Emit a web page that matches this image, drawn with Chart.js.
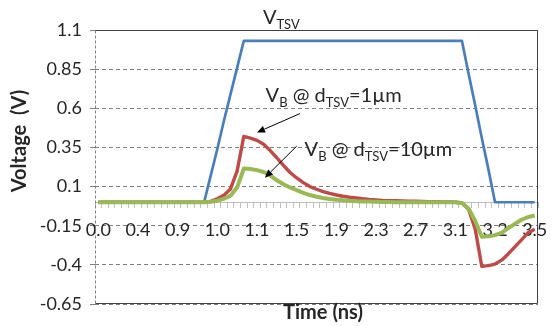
<!DOCTYPE html>
<html>
<head>
<meta charset="utf-8">
<script src="https://cdn.jsdelivr.net/npm/chart.js@4.4.0/dist/chart.umd.min.js"></script>
<style>
  html, body { margin: 0; padding: 0; background: #fff; }
</style>
</head>
<body>
<canvas id="chart" width="553" height="326"></canvas>
<script>
// time labels shown every 6th sample (ns)
const tickLabels = ['0.0', '0.4', '0.9', '1.0', '1.1', '1.5', '1.9', '2.3', '2.7', '3.1', '3.2', '3.5'];
const yTicks = [-0.65, -0.4, -0.15, 0.1, 0.35, 0.6, 0.85, 1.1];

// V_TSV (blue)
const vTsv = [
  0, 0, 0, 0, 0, 0, 0, 0, 0, 0, 0, 0, 0, 0, 0, 0, 0,
  0.17, 0.34, 0.52, 0.69, 0.86, 1.03,
  1.03, 1.03, 1.03, 1.03, 1.03, 1.03, 1.03, 1.03, 1.03, 1.03, 1.03,
  1.03, 1.03, 1.03, 1.03, 1.03, 1.03, 1.03, 1.03, 1.03, 1.03, 1.03,
  1.03, 1.03, 1.03, 1.03, 1.03, 1.03, 1.03, 1.03, 1.03, 1.03, 1.03,
  0.82, 0.62, 0.41, 0.21,
  0, 0, 0, 0, 0, 0, 0
];

// V_B @ d_TSV = 1um (red)
const vB1 = [
  0, 0, 0, 0, 0, 0, 0, 0, 0, 0, 0, 0, 0, 0, 0, 0, 0,
  0.005, 0.022, 0.045, 0.085, 0.2, 0.42,
  0.41, 0.395, 0.37, 0.33, 0.284, 0.235, 0.19, 0.155, 0.125, 0.1,
  0.083, 0.068, 0.056, 0.046, 0.038, 0.032, 0.027, 0.022, 0.018, 0.015,
  0.012, 0.01, 0.009, 0.008, 0.007, 0.006, 0.005, 0.004, 0.003, 0.002,
  0.001, 0, -0.005, -0.045, -0.17, -0.41,
  -0.405, -0.395, -0.37, -0.33, -0.285, -0.24, -0.195, -0.172
];

// V_B @ d_TSV = 10um (green)
const vB10 = [
  0, 0, 0, 0, 0, 0, 0, 0, 0, 0, 0, 0, 0, 0, 0, 0, 0,
  0.003, 0.01, 0.022, 0.042, 0.095, 0.215,
  0.212, 0.205, 0.193, 0.172, 0.14, 0.115, 0.094, 0.077, 0.06, 0.046,
  0.035, 0.027, 0.021, 0.016, 0.012, 0.009, 0.007, 0.005, 0.004, 0.003,
  0.002, 0.001, 0, 0, 0, 0, 0, 0, 0, 0,
  0, 0, -0.005, -0.04, -0.12, -0.22,
  -0.218, -0.21, -0.195, -0.165, -0.138, -0.112, -0.095, -0.085
];

const labels = vTsv.map((_, i) => i % 6 === 0 ? tickLabels[i / 6] : '');

const tickFont = { family: 'Lato', size: 18 };
const txt = '#262626';

// text notes and arrows, placed in data units (sample index, volts)
const notes = [
  { parts: [['V', 0], ['TSV', 1]], at: [24.9, 1.139] },
  { parts: [['V', 0], ['B', 1], [' @ d', 0], ['TSV', 1], ['=1\u00b5m', 0]], at: [25.3, 0.642] },
  { parts: [['V', 0], ['B', 1], [' @ d', 0], ['TSV', 1], ['=10\u00b5m', 0]], at: [31.2, 0.295] }
];
const arrows = [
  { from: [30.5, 0.566], to: [24.0, 0.446] },
  { from: [30.0, 0.358], to: [25.2, 0.157] }
];

const frame = {
  id: 'frame',
  beforeDatasetsDraw(chart) {
    const { ctx, chartArea: a } = chart;
    const l = Math.round(a.left) + 0.5, r = Math.round(a.right) - 0.5;
    const t = Math.round(a.top) + 0.5, b = Math.round(a.bottom) - 0.5;
    ctx.save();
    ctx.lineWidth = 1;
    ctx.strokeStyle = '#404040';
    ctx.beginPath();
    ctx.moveTo(l, t); ctx.lineTo(r, t); ctx.lineTo(r, b); ctx.lineTo(l, b);
    ctx.stroke();
    ctx.strokeStyle = '#7f7f7f';
    ctx.setLineDash([3, 2]);
    ctx.beginPath();
    ctx.moveTo(l, t); ctx.lineTo(l, b);
    ctx.stroke();
    ctx.restore();
  },
  afterDatasetsDraw(chart) {
    const { ctx, scales: { x, y } } = chart;
    ctx.save();
    ctx.fillStyle = txt;
    ctx.textBaseline = 'alphabetic';
    ctx.textAlign = 'left';
    notes.forEach(n => {
      let px = x.getPixelForValue(n.at[0]);
      const py = y.getPixelForValue(n.at[1]);
      n.parts.forEach(([s, sub]) => {
        ctx.font = sub ? '13px Lato' : '20px Lato';
        ctx.fillText(s, px, sub ? py + 5 : py);
        px += ctx.measureText(s).width;
      });
    });
    ctx.strokeStyle = '#000';
    ctx.fillStyle = '#000';
    ctx.lineWidth = 1;
    arrows.forEach(ar => {
      const x1 = x.getPixelForValue(ar.from[0]), y1 = y.getPixelForValue(ar.from[1]);
      const x2 = x.getPixelForValue(ar.to[0]), y2 = y.getPixelForValue(ar.to[1]);
      const ang = Math.atan2(y2 - y1, x2 - x1);
      const hl = 8, hw = 3.5;
      const bx = x2 - hl * Math.cos(ang), by = y2 - hl * Math.sin(ang);
      ctx.beginPath();
      ctx.moveTo(x1, y1); ctx.lineTo(bx, by);
      ctx.stroke();
      ctx.beginPath();
      ctx.moveTo(x2, y2);
      ctx.lineTo(bx + hw * Math.sin(ang), by - hw * Math.cos(ang));
      ctx.lineTo(bx - hw * Math.sin(ang), by + hw * Math.cos(ang));
      ctx.closePath();
      ctx.fill();
    });
    // axis titles
    ctx.fillStyle = txt;
    ctx.font = 'bold 20px Lato';
    ctx.textAlign = 'center';
    ctx.textBaseline = 'middle';
    ctx.fillText('Time (ns)', 323, 313);
    ctx.translate(20, 141);
    ctx.rotate(-Math.PI / 2);
    ctx.fillText('Voltage  (V)', 0, 0);
    ctx.restore();
  }
};

new Chart(document.getElementById('chart'), {
  type: 'line',
  data: {
    labels: labels,
    datasets: [
      { label: 'VTSV', data: vTsv, borderColor: '#4a7ebb', borderWidth: 2.7, order: 3 },
      { label: 'VB 1um', data: vB1, borderColor: '#be4b48', borderWidth: 3.4, order: 2 },
      { label: 'VB 10um', data: vB10, borderColor: '#98b954', borderWidth: 4, order: 1 }
    ]
  },
  options: {
    responsive: false,
    animation: false,
    devicePixelRatio: 1,
    layout: { padding: { left: 0, right: 15, top: 30, bottom: 22 } },
    elements: { point: { radius: 0 }, line: { tension: 0, borderJoinStyle: 'round' } },
    plugins: { legend: { display: false }, tooltip: { enabled: false } },
    scales: {
      x: {
        type: 'category',
        position: { y: 0 },
        offset: true,
        afterFit: s => { s.paddingLeft = 0; s.paddingRight = 0; },
        grid: { offset: true, drawOnChartArea: false, tickLength: 5, tickColor: '#bfbfbf', color: '#bfbfbf' },
        border: { color: '#bfbfbf' },
        ticks: { autoSkip: false, maxRotation: 0, minRotation: 0, padding: 12, color: txt, font: tickFont }
      },
      y: {
        min: -0.65,
        max: 1.1,
        afterBuildTicks: s => { s.ticks = yTicks.map(v => ({ value: v })); },
        afterFit: s => { s.width = 95; },
        ticks: { padding: 8, color: txt, font: tickFont, callback: v => String(+v.toFixed(2)) },
        grid: { color: '#7f7f7f', tickLength: 5, tickColor: '#7f7f7f', tickBorderDash: [] },
        border: { display: false, dash: [4, 3] }
      }
    }
  },
  plugins: [frame]
});
</script>
</body>
</html>
